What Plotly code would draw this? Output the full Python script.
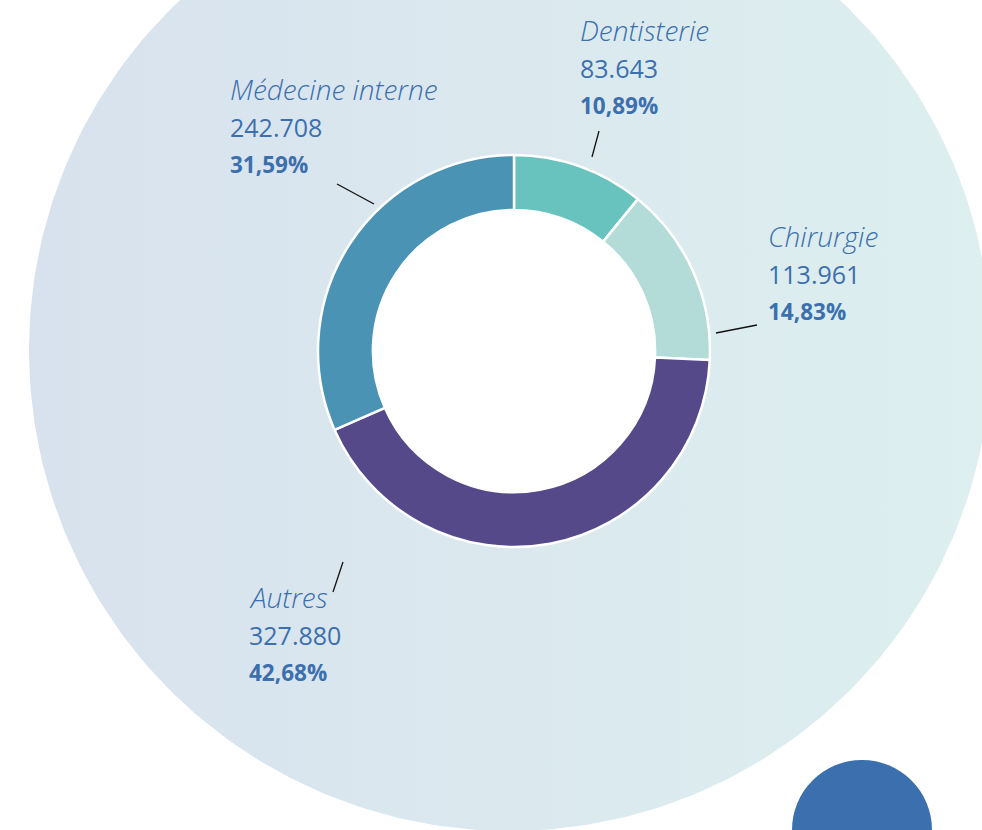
import numpy as np
import plotly.graph_objects as go

# ---- data ----
categories = ["Dentisterie", "Chirurgie", "Autres", "Médecine interne"]
values = [83643, 113961, 327880, 242708]
value_labels = ["83.643", "113.961", "327.880", "242.708"]
pct_labels = ["10,89%", "14,83%", "42,68%", "31,59%"]
colors = ["#68C2BD", "#B3DCD8", "#55498A", "#4A93B5"]

W, H = 982, 830
BLUE = "#3B6FAE"
FONT = "Open Sans"

fig = go.Figure()

# background big circle with horizontal gradient
t = np.linspace(0, 2 * np.pi, 400)
cx, cy, r = 510, 350, 481
fig.add_trace(go.Scatter(
    x=cx + r * np.cos(t), y=cy + r * np.sin(t),
    fill="toself", mode="lines", line=dict(width=0),
    fillgradient=dict(type="horizontal",
                      colorscale=[[0, "#D8E2EE"], [1, "#DDEFEF"]]),
    hoverinfo="skip", showlegend=False))

# donut geometry
dcx, dcy, dr = 514, 351, 196
hole = 0.72
# white hole
fig.add_trace(go.Scatter(
    x=dcx + dr * hole * np.cos(t), y=dcy + dr * hole * np.sin(t),
    fill="toself", mode="lines", line=dict(width=0), fillcolor="white",
    hoverinfo="skip", showlegend=False))

fig.add_trace(go.Pie(
    labels=categories, values=values, hole=hole, sort=False,
    direction="clockwise", rotation=0,
    marker=dict(colors=colors, line=dict(color="white", width=2.5)),
    textinfo="none", hoverinfo="label+value+percent", showlegend=False,
    domain=dict(x=[(dcx - dr) / W, (dcx + dr) / W],
                y=[1 - (dcy + dr) / H, 1 - (dcy - dr) / H])))

# label positions (left x, name center y)
label_pos = {
    "Dentisterie": (578, 30),
    "Chirurgie": (766, 236),
    "Autres": (247, 597),
    "Médecine interne": (228, 89),
}
for cat, vl, pl in zip(categories, value_labels, pct_labels):
    x0, y0 = label_pos[cat]
    fig.add_annotation(x=x0, y=y0, text=f"<i>{cat}</i>", showarrow=False,
                       xanchor="left", yanchor="middle",
                       font=dict(family=FONT, size=28, color=BLUE, weight=300))
    fig.add_annotation(x=x0, y=y0 + 38, text=vl, showarrow=False,
                       xanchor="left", yanchor="middle",
                       font=dict(family=FONT, size=25, color=BLUE, weight=400))
    fig.add_annotation(x=x0, y=y0 + 75, text=f"<b>{pl}</b>", showarrow=False,
                       xanchor="left", yanchor="middle",
                       font=dict(family=FONT, size=22.5, color=BLUE))

# leader lines
leaders = [((599, 131), (592, 157)), ((757, 325), (716, 333)),
           ((343, 562), (333, 592)), ((337, 184), (374, 204))]
shapes = []
for (a, b) in leaders:
    shapes.append(dict(type="line", x0=a[0], y0=a[1], x1=b[0], y1=b[1],
                       line=dict(color="#111111", width=1.3), layer="above"))
# decorative blue circle bottom right
shapes.append(dict(type="circle", x0=792, x1=932, y0=760, y1=900,
                   fillcolor=BLUE, line=dict(width=0), layer="above"))

fig.update_layout(
    width=W, height=H, margin=dict(l=0, r=0, t=0, b=0),
    paper_bgcolor="white", plot_bgcolor="white",
    xaxis=dict(range=[0, W], visible=False, fixedrange=True),
    yaxis=dict(range=[H, 0], visible=False, fixedrange=True),
    shapes=shapes,
)
fig.write_html(
    "out.html",
    config={"displayModeBar": False},
    post_script="document.body.style.margin='0';document.body.style.overflow='hidden';",
)
